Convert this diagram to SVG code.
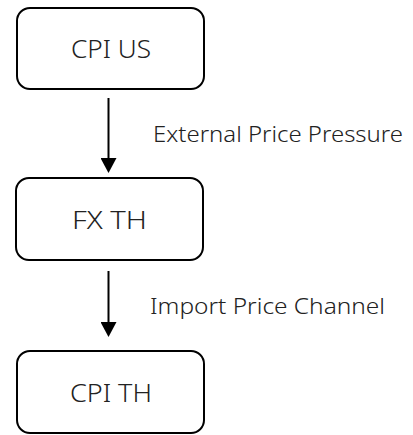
<svg xmlns="http://www.w3.org/2000/svg" width="413" height="435" viewBox="0 0 413 435">
<style>
.node rect{fill:#ffffff;stroke:#000000;stroke-width:2}
.node text{font-family:"Noto Sans","Open Sans","DejaVu Sans",sans-serif;font-weight:300;font-size:25px;fill:#222222;text-anchor:middle}
.edge line{stroke:#000000;stroke-width:2}
.label{font-family:"Noto Sans","Open Sans","DejaVu Sans",sans-serif;font-weight:300;font-size:21px;fill:#222222}
</style>
<defs>
<marker id="arrow" markerWidth="15" markerHeight="16" refX="0" refY="8" orient="auto" markerUnits="userSpaceOnUse" viewBox="0 0 15 16">
<path d="M0,0 L15,8 L0,16 Z" fill="#000000"/>
</marker>
</defs>
<rect width="413" height="435" fill="#ffffff"/>
<g id="connectors" class="edge">
<g id="e1"><line x1="108.5" y1="98" x2="108.5" y2="158" marker-end="url(#arrow)"/><text class="label" x="153" y="142" textLength="250" lengthAdjust="spacingAndGlyphs">External Price Pressure</text></g>
<g id="e2"><line x1="108.5" y1="271" x2="108.5" y2="322" marker-end="url(#arrow)"/><text class="label" x="150" y="314" textLength="235" lengthAdjust="spacingAndGlyphs">Import Price Channel</text></g>
</g>
<g id="cpi_us" class="node"><rect x="17" y="8" width="187" height="81" rx="13"/><text x="111" y="58" textLength="80" lengthAdjust="spacingAndGlyphs">CPI US</text></g>
<g id="fx_th" class="node"><rect x="16" y="178" width="187" height="82" rx="13"/><text x="109.5" y="229" textLength="75" lengthAdjust="spacingAndGlyphs">FX TH</text></g>
<g id="cpi_th" class="node"><rect x="17" y="351" width="187" height="82" rx="13"/><text x="111" y="402" textLength="82" lengthAdjust="spacingAndGlyphs">CPI TH</text></g>
</svg>
